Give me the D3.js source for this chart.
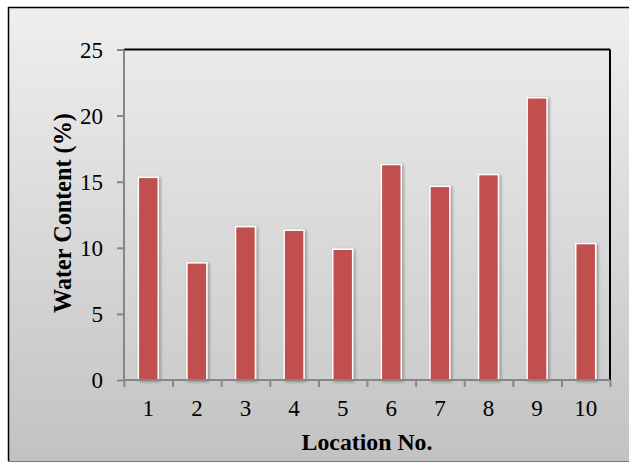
<!DOCTYPE html>
<html><head><meta charset="utf-8">
<script src="https://cdn.jsdelivr.net/npm/d3@7"></script>
<style>body{margin:0;background:#fff}svg{display:block}</style>
</head><body>
<script>
const categories = ["1","2","3","4","5","6","7","8","9","10"];
const values = [15.33, 8.86, 11.6, 11.33, 9.89, 16.3, 14.65, 15.54, 21.35, 10.32];
const yTicks = [0, 5, 10, 15, 20, 25];
const yTitle = "Water Content (%)";
const xTitle = "Location No.";

const W = 629, H = 463;
const m = {left: 124, right: 19, top: 49.5, bottom: 83};
const svg = d3.select("body").append("svg").attr("width", W).attr("height", H);
const defs = svg.append("defs");
const g1 = defs.append("linearGradient").attr("id","outerG").attr("x1",0).attr("y1",0).attr("x2",0).attr("y2",1);
g1.append("stop").attr("offset",0).attr("stop-color","#efefef");
g1.append("stop").attr("offset",1).attr("stop-color","#c2c2c2");
const g2 = defs.append("linearGradient").attr("id","plotG").attr("x1",0).attr("y1",0).attr("x2",0).attr("y2",1);
g2.append("stop").attr("offset",0).attr("stop-color","#eaeaea");
g2.append("stop").attr("offset",1).attr("stop-color","#cdcdcd");
const f = defs.append("filter").attr("id","sh").attr("x","-50%").attr("y","-10%").attr("width","200%").attr("height","130%");
f.append("feDropShadow").attr("dx",1.5).attr("dy",1).attr("stdDeviation",1.5).attr("flood-color","#000").attr("flood-opacity",0.35);

svg.append("rect").attr("x",0).attr("y",0).attr("width",W).attr("height",H).attr("fill","#fff");
svg.append("rect").attr("x",8.5).attr("y",7.5).attr("width",W).attr("height",461-7.5).attr("fill","url(#outerG)");
svg.append("line").attr("x1",8.5).attr("x2",8.5).attr("y1",7).attr("y2",461).attr("stroke","#000").attr("stroke-width",1.5);
svg.append("line").attr("x1",8).attr("x2",W).attr("y1",7.5).attr("y2",7.5).attr("stroke","#000").attr("stroke-width",1.5);
svg.append("line").attr("x1",8).attr("x2",W).attr("y1",461.5).attr("y2",461.5).attr("stroke","#777").attr("stroke-width",1);

const x0 = m.left, x1 = W - m.right, y1 = m.top;
const x = d3.scaleBand().domain(categories).range([x0, x1]).paddingInner(0.59).paddingOuter(0.295);
const y = d3.scaleLinear().domain([0, 25]).range([380, y1]);

svg.append("rect").attr("x",x0).attr("y",y1).attr("width",x1-x0).attr("height",380-y1).attr("fill","url(#plotG)");
svg.append("line").attr("x1",x0).attr("x2",x1).attr("y1",y1).attr("y2",y1).attr("stroke","#000").attr("stroke-width",2);
svg.append("line").attr("x1",x1).attr("x2",x1).attr("y1",y1).attr("y2",380).attr("stroke","#000").attr("stroke-width",2);

svg.append("g").selectAll("rect").data(values).join("rect")
  .attr("x",(d,i)=>x(categories[i])).attr("width",x.bandwidth())
  .attr("y",d=>y(d)).attr("height",d=>380-y(d))
  .attr("fill","#c0504d").attr("stroke","#fff").attr("stroke-width",1.5)
  .attr("filter","url(#sh)");

const xb = d3.scaleLinear().domain([0, categories.length]).range([x0, x1]);
const xAxis = svg.append("g").attr("transform",`translate(0,380)`)
  .call(d3.axisBottom(xb).tickValues(d3.range(0, categories.length+1)).tickSize(7).tickFormat(""));
xAxis.selectAll("line,path").attr("stroke","#868686").attr("stroke-width",2);
const yAxis = svg.append("g").attr("transform",`translate(${x0},0)`)
  .call(d3.axisLeft(y).tickValues(yTicks).tickSize(7).tickPadding(14));
yAxis.selectAll("line,path").attr("stroke","#868686").attr("stroke-width",2);
yAxis.selectAll("text").attr("font-family","Liberation Serif").attr("font-size",23).attr("fill","#000").attr("dy","0.34em");
xAxis.select(".domain").attr("d",`M${x0},0H${x1}`);
yAxis.select(".domain").attr("d",`M0,380H0V${y1}`);

svg.append("g").selectAll("text").data(categories).join("text")
  .attr("x",d=>x(d)+x.bandwidth()/2).attr("y",416)
  .attr("text-anchor","middle").attr("font-family","Liberation Serif").attr("font-size",23).text(d=>d);

function fit(sel, target){
  sel.attr("font-size",20);
  const L = sel.node().getComputedTextLength();
  sel.attr("font-size", 20*target/L);
}
const xt = svg.append("text").attr("x",367).attr("y",450).attr("text-anchor","middle")
  .attr("font-family","Liberation Serif").attr("font-weight","bold").text(xTitle);
fit(xt, 131);
const yt = svg.append("text").attr("transform",`translate(71,213) rotate(-90)`).attr("text-anchor","middle")
  .attr("font-family","Liberation Serif").attr("font-weight","bold").text(yTitle);
fit(yt, 200);
</script>
</body></html>
